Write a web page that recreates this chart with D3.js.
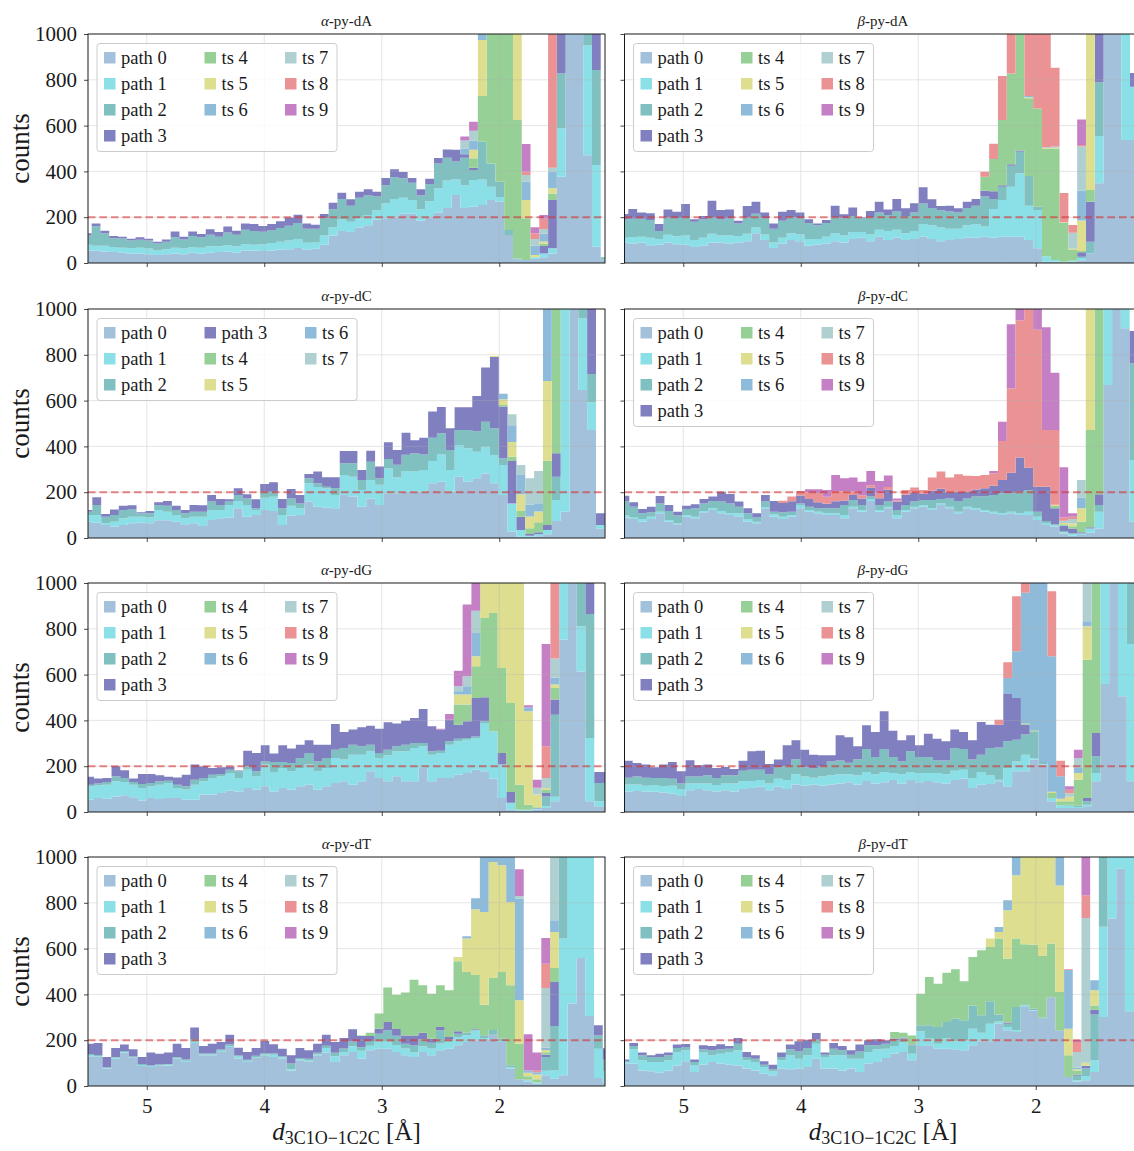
<!DOCTYPE html>
<html>
<head>
<meta charset="utf-8">
<title>stacked histograms</title>
<script src="https://cdn.jsdelivr.net/npm/d3@7"></script>
<style>
  body { margin: 0; background: #fff; }
  svg { display: block; font-family: "Liberation Serif", "DejaVu Serif", serif; }
</style>
</head>
<body>
<svg id="chart" width="1134" height="1151"></svg>
<script>
// ---------------- data ----------------
const seriesNames = ["path 0", "path 1", "path 2", "path 3", "ts 4", "ts 5", "ts 6", "ts 7", "ts 8", "ts 9"];
const seriesColors = ["steelblue", "#17becf", "teal", "navy", "#2ca02c", "#bcbd22", "#1f77b4", "cadetblue", "#d62728", "darkmagenta"];
const xTicks = [5, 4, 3, 2];
const yTicks = [0, 200, 400, 600, 800, 1000];
const cutoff = 200;

// zero everywhere except a run of bins starting at `from`
function pad(n, from, vals) {
  const out = new Array(n).fill(0);
  vals.forEach((v, k) => { out[from + k] = v; });
  return out;
}

// alpha-py-dA
const aA_p0 = [55,55,50,48,45,40,42,38,35,38, 42,38,45,42,45,48,50,45,55,55, 52,55,58,60,65,58,62,80,120,140, 135,155,165,190,195,200,215,215,185,200, 220,240,297,240,246,253,275,268,122,16, 13,17,25,42,377,1100,1100,470,71,15];
const aA_p1 = [25,20,25,22,22,25,25,25,20,22, 25,25,25,25,28,25,28,28,28,25, 30,32,35,38,40,30,28,40,35,50, 45,40,45,40,65,80,70,60,50,70, 106,120,68,100,116,112,58,20,0,0, 0,8,17,22,211,0,0,480,357,0];
const aA_p2 = [40,85,55,38,40,33,35,35,30,33, 45,40,48,45,50,42,55,50,62,60, 55,55,60,65,70,62,60,75,80,90, 70,90,85,60,80,95,85,75,60,75, 109,100,78,120,44,165,102,67,22,4, 0,0,0,0,240,0,0,150,415,10];
const aA_p3 = [10,13,11,10,8,8,10,8,8,10, 26,12,20,15,24,20,26,18,28,30, 25,28,29,36,36,23,17,19,28,27, 28,26,27,21,31,34,27,21,27,23, 24,36,51,15,10,0,0,0,0,0, 0,0,32,211,300,0,0,0,300,0];
const aA_ts4 = pad(60, 43, [0,41,199,800,900,1000,605,182,0,10,29]);
const aA_ts5 = pad(60, 43, [0,38,245,0,0,0,500,80,10,10,22]);
const aA_ts6 = pad(60, 43, [25,40,40,0,0,0,0,80,40,34,73]);
const aA_ts7 = pad(60, 43, [35,42,0,0,0,0,0,29,30,20,17]);
const aA_ts8 = pad(60, 43, [0,0,0,0,0,0,0,15,25,45,700]);
const aA_ts9 = pad(60, 43, [17,40,0,0,0,0,0,121,26,17,0]);

// beta-py-dA
const bA_p0 = [90,85,88,78,80,88,82,80,70,75, 88,90,85,88,95,130,100,65,85,100, 95,75,80,85,95,90,105,110,95,115, 100,110,100,105,115,105,95,100,105,110, 110,115,110,115,115,115,100,64,5,5, 3,5,12,42,348,1200,1200,537,537,500];
const bA_p1 = [20,28,27,32,25,35,35,40,30,35, 40,30,35,30,33,25,25,25,25,30, 30,30,25,30,35,30,30,25,30,30, 40,35,30,35,55,60,60,50,45,55, 60,44,126,160,218,277,150,167,25,8, 3,5,10,0,207,0,0,600,233,400];
const bA_p2 = [80,80,78,78,35,75,80,78,80,80, 70,70,75,55,70,60,70,60,75,70, 70,70,60,60,70,75,70,60,75,75, 70,80,75,80,90,75,75,75,70,75, 80,131,44,58,92,94,130,15,0,0, 0,0,5,51,234,0,0,0,0,0];
const bA_p3 = [24,43,27,29,30,36,27,60,11,15, 74,41,39,12,51,53,26,23,39,31, 25,16,8,13,50,18,37,5,27,48, 24,55,34,41,71,38,19,25,19,28, 30,26,33,7,6,5,0,0,0,0, 0,0,20,175,300,0,0,0,60,0];
const bA_ts4 = pad(60, 41, [61,141,285,397,600,339,429,470,487,170,47,5,51]);
const bA_ts5 = pad(60, 41, [0,0,0,0,0,5,0,3,4,2,5,134,700]);
const bA_ts6 = pad(60, 41, [0,0,0,0,0,5,0,3,5,0,0,131,0]);
const bA_ts7 = pad(60, 41, [0,0,0,0,0,0,0,0,0,0,70,193,0]);
const bA_ts8 = pad(60, 41, [22,67,192,250,0,300,400,600,344,128,34,5,0]);
const bA_ts9 = pad(60, 41, [0,0,0,0,0,0,0,0,0,0,0,112,0]);

// alpha-py-dC
const aC_p0 = [71,67,57,50,57,64,67,64,77,77, 71,60,64,52,79,86,89,130,93,100, 122,118,57,98,100,159,137,132,130,188, 181,137,173,144,195,195,202,202,202,239, 246,202,268,246,261,282,239,188,28,5, 5,8,16,74,115,1100,646,472,42];
const aC_p1 = [29,33,7,21,29,29,26,25,45,38, 29,26,29,41,43,36,55,32,51,22, 54,62,43,43,30,80,86,85,58,87, 87,73,80,89,109,69,91,88,95,97, 119,95,138,146,116,117,123,131,123,30, 5,8,19,92,1000,0,313,121,15];
const aC_p2 = [15,44,29,29,36,32,15,19,22,26, 22,22,22,22,37,22,15,26,29,8, 26,22,30,32,21,22,16,7,29,51, 58,43,80,28,41,56,70,80,68,102, 92,87,66,80,89,109,117,29,0,0, 0,0,0,102,0,0,200,123,0];
const aC_p3 = [7,34,12,25,19,18,4,10,12,21, 19,14,29,28,29,26,10,29,18,39, 34,41,40,41,37,19,51,41,48,54, 54,44,48,51,73,64,97,57,73,114, 115,95,99,99,154,236,311,226,185,58, 7,9,22,102,0,0,0,400,51];
const aC_ts4 = pad(59, 46, [0,7,19,25,26,44,280,700]);
const aC_ts5 = pad(59, 46, [5,25,64,73,51,47,349,0]);
const aC_ts6 = pad(59, 46, [0,24,73,84,51,36,320,0]);
const aC_ts7 = pad(59, 46, [0,0,48,44,116,141,0,0]);

// beta-py-dC
const bC_p0 = [89,83,71,83,108,71,60,93,86,112, 122,108,100,93,71,64,130,93,83,93, 130,115,108,100,100,86,130,115,162,115, 130,86,115,130,137,122,144,130,108,130, 122,115,108,100,108,100,100,79,57,50, 20,10,13,23,42,668,1100,916,71];
const bC_p1 = [9,7,12,10,7,8,4,7,7,6, 8,10,8,15,12,7,5,10,10,7, 14,7,7,8,8,14,7,7,8,7, 7,14,7,7,7,8,7,7,7,7, 8,7,7,8,7,8,15,14,7,7, 5,8,7,19,73,400,0,100,270];
const bC_p2 = [61,47,25,19,36,39,34,27,37,33, 32,41,43,29,25,18,24,12,19,15, 7,15,15,22,22,44,29,22,11,22, 22,22,22,22,22,36,19,36,47,36, 51,60,73,87,80,94,95,22,10,3, 6,3,0,0,29,0,0,0,422];
const bC_p3 = [26,19,19,25,32,26,17,14,17,19, 19,43,41,22,22,19,29,47,41,45, 35,33,26,20,30,20,22,28,39,30, 52,36,45,38,27,40,45,27,40,30, 31,35,40,58,90,149,97,109,150,70, 23,20,5,5,47,0,0,0,141];
const bC_ts4 = pad(59, 49, [10,6,10,46,425,900]);
const bC_ts5 = pad(59, 49, [5,5,12,59,600]);
const bC_ts6 = pad(59, 52, [46]);
const bC_ts7 = pad(59, 50, [10,20,77]);
const bC_ts8 = pad(59, 18, [10,21,19,30,40,30,45,40,15,15, 10,20,12,6,21,23,17,58,75,64, 76,69,59,58,55,171,369,600,700,685, 248,327,15,10]);
const bC_ts9 = pad(59, 21, [13,17,30,70,57,61,59,63,55,50, 9,0,0,0,0,0,0,0,0,0, 0,10,84,279,150,0,100,448,250,219, 15]);

// alpha-py-dG
const aG_p0 = [54,61,58,68,73,64,50,61,57,61, 61,54,54,76,76,83,93,90,105,98, 112,90,105,98,112,119,98,112,127,134, 119,134,178,149,134,156,134,134,192,134, 149,149,163,170,185,178,146,61,10,5, 5,10,17,47,753,1100,614,47,25,25];
const aG_p1 = [58,55,61,66,58,55,55,51,62,66, 44,44,65,58,73,73,77,59,80,58, 95,85,87,80,80,88,80,80,109,95, 131,116,87,87,114,109,131,146,95,116, 109,145,146,146,138,211,206,146,30,5, 5,5,8,20,400,0,197,276,22,22];
const aG_p2 = [7,9,12,22,18,12,17,15,15,10, 14,14,22,15,14,10,15,29,15,22, 14,43,26,36,44,51,43,44,36,51, 44,37,29,22,24,22,29,21,14,15, 10,15,11,7,7,7,0,0,0,0, 0,0,43,358,0,0,300,542,80,80];
const aG_p3 = [35,21,18,44,33,15,44,39,26,17, 32,51,66,51,29,29,13,3,68,80, 70,37,73,63,58,55,73,58,112,69, 66,83,83,105,120,100,105,110,149,109, 91,94,61,73,168,105,0,51,47,0, 0,3,15,66,0,0,0,300,48,48];
const aG_ts4 = pad(60, 42, [88,73,138,346,517,371,389,109,22,3,15,51]);
const aG_ts5 = pad(60, 42, [44,44,44,250,250,400,600,900,408,55,7,15]);
const aG_ts6 = pad(60, 42, [14,36,102,0,0,0,0,0,17,0,0,29]);
const aG_ts7 = pad(60, 42, [22,44,97,0,0,0,0,0,0,30,44,84]);
const aG_ts8 = pad(60, 52, [138,400]);
const aG_ts9 = pad(60, 40, [5,25,68,313,130,0,0,0,0,0,9,35,447]);

// beta-py-dG
const bG_p0 = [90,92,90,88,85,80,70,95,100,95, 90,95,90,100,105,110,95,110,100,120, 115,120,115,120,125,130,120,135,125,130, 140,125,140,130,135,130,125,140,145,105, 119,122,134,112,178,178,229,207,47,17, 17,17,25,134,559,1200,505,134];
const bG_p1 = [30,28,25,30,28,35,30,30,25,30, 28,30,35,35,30,30,30,35,40,45, 40,30,40,40,40,35,40,40,40,45, 30,40,35,40,35,40,40,40,40,44, 56,38,7,80,43,72,7,3,14,12, 10,5,7,36,600,0,600,600];
const bG_p2 = [30,35,35,30,35,30,25,30,30,35, 30,35,35,45,50,45,40,50,60,65, 40,40,45,60,60,50,70,100,75,100, 70,55,90,70,70,55,60,100,90,80, 75,120,141,117,95,88,116,8,0,0, 5,5,15,73,0,0,0,400];
const bG_p3 = [74,59,57,47,59,73,53,71,49,47, 44,37,28,44,80,83,45,34,91,83, 77,60,48,28,110,111,57,104,109,165, 115,93,70,51,102,95,84,80,74,84, 143,101,99,206,182,43,0,0,0,0, 0,0,14,102,0,0,0,0];
const bG_ts4 = pad(58, 45, [5,5,0,22,18,15,114,604,700]);
const bG_ts5 = pad(58, 48, [5,11,20,29,146]);
const bG_ts6 = pad(58, 43, [70,204,571,800,900,592,98,0,22,22]);
const bG_ts7 = pad(58, 50, [15,44,200]);
const bG_ts8 = pad(58, 42, [22,69,240,100,0,0,284,68,15]);
const bG_ts9 = pad(58, 50, [15,36]);

// alpha-py-dT
const aT_p0 = [130,127,76,119,146,122,87,83,87,90, 119,105,188,134,134,149,170,119,105,122, 134,127,119,68,112,108,134,146,105,134, 149,119,156,163,163,149,134,127,149,134, 156,163,178,192,200,200,224,192,76,29, 20,10,47,32,47,360,559,306,35,15];
const aT_p1 = [5,3,3,4,3,3,5,4,4,3, 3,5,5,4,4,5,5,10,5,4, 4,10,6,5,5,5,5,20,25,15, 25,35,20,30,30,30,30,20,25,30, 30,30,35,30,43,10,0,5,5,0, 5,5,20,36,597,700,600,700,128,50];
const aT_p2 = [5,5,3,4,4,4,4,3,3,3, 4,6,12,4,4,5,6,4,5,6, 6,5,5,25,5,6,6,10,15,15, 20,15,20,35,50,40,20,30,30,25, 57,11,15,10,0,12,20,10,10,0, 3,0,60,194,400,0,0,0,58,50];
const aT_p3 = [45,53,45,39,28,31,31,56,47,50, 59,50,50,33,43,33,43,34,34,34, 53,40,33,36,44,37,40,48,47,46, 54,49,22,22,37,30,37,44,29,17, 15,10,11,0,5,0,0,0,0,0, 0,0,10,192,0,0,0,0,44,50];
const aT_ts4 = pad(60, 31, [3,15,67,150,150,187,243,207,197,182, 204,306,266,237,133,228,291,349,156,15, 15,10,61]);
const aT_ts5 = pad(60, 42, [18,146,287,405,506,466,364,189,15,20,10,158]);
const aT_ts6 = pad(60, 43, [10,48,300,50,100,250,444,10,10,10,51]);
const aT_ts7 = pad(60, 49, [12,0,0,261,300]);
const aT_ts8 = pad(60, 51, [7,106]);
const aT_ts9 = pad(60, 49, [116,158,79,112]);

// beta-py-dT
const bT_p0 = [98,98,68,64,58,68,90,108,61,93, 105,98,93,90,76,68,54,47,76,73, 76,83,119,76,76,68,76,61,98,105, 122,141,149,112,175,178,163,163,160,156, 178,195,195,272,243,236,345,330,294,388, 243,39,20,25,61,301,731,949,326,326];
const bT_p1 = [7,62,44,41,47,44,59,48,29,53, 29,43,53,66,36,37,29,17,36,61, 43,51,66,51,58,66,43,58,51,55, 41,34,43,29,64,29,22,44,35,44, 72,38,77,10,15,7,7,2,0,0, 0,0,5,19,51,394,400,200,700,700];
const bT_p2 = [2,15,22,22,22,22,17,14,15,14, 22,19,17,29,15,14,10,9,15,26, 32,32,17,10,29,22,18,32,29,18, 22,25,15,37,26,58,73,73,99,87, 102,76,98,30,14,102,5,5,5,0, 0,0,20,32,200,400,0,0,0,0];
const bT_p3 = [9,13,12,7,14,12,15,13,11,18, 19,22,12,25,22,15,15,20,19,21, 44,36,29,9,25,19,19,30,22,26, 15,7,5,3,0,0,0,0,0,0, 0,0,0,0,5,0,0,0,0,0, 0,0,5,11,21,0,0,0,0,0];
const bT_ts4 = pad(60, 31, [29,21,40,138,211,189,215,216,170,211, 284,237,332,279,299,262,280,269,234,168, 95,18,3,19]);
const bT_ts5 = pad(60, 42, [37,29,211,276,400,400,450,400,465,116,5,12,66]);
const bT_ts6 = pad(60, 43, [21,44,150,0,0,0,0,150,258,7,0,44]);
const bT_ts7 = pad(60, 52, [69,632]);
const bT_ts8 = pad(60, 51, [3,43,99]);
const bT_ts9 = pad(60, 52, [8,167]);

const titles = ["α-py-dA", "β-py-dA", "α-py-dC", "β-py-dC", "α-py-dG", "β-py-dG", "α-py-dT", "β-py-dT"];
// upper edge of the first bin and bin width (Å) of every histogram
const binTop = [5.5435, 5.5423, 5.5383, 5.5335, 5.5237, 5.5057, 5.5265, 5.5329];
const binWidth = [0.0747, 0.0749, 0.0752, 0.0747, 0.0747, 0.0751, 0.0747, 0.0740];
const panelSeries = [
  [aA_p0, aA_p1, aA_p2, aA_p3, aA_ts4, aA_ts5, aA_ts6, aA_ts7, aA_ts8, aA_ts9],
  [bA_p0, bA_p1, bA_p2, bA_p3, bA_ts4, bA_ts5, bA_ts6, bA_ts7, bA_ts8, bA_ts9],
  [aC_p0, aC_p1, aC_p2, aC_p3, aC_ts4, aC_ts5, aC_ts6, aC_ts7],
  [bC_p0, bC_p1, bC_p2, bC_p3, bC_ts4, bC_ts5, bC_ts6, bC_ts7, bC_ts8, bC_ts9],
  [aG_p0, aG_p1, aG_p2, aG_p3, aG_ts4, aG_ts5, aG_ts6, aG_ts7, aG_ts8, aG_ts9],
  [bG_p0, bG_p1, bG_p2, bG_p3, bG_ts4, bG_ts5, bG_ts6, bG_ts7, bG_ts8, bG_ts9],
  [aT_p0, aT_p1, aT_p2, aT_p3, aT_ts4, aT_ts5, aT_ts6, aT_ts7, aT_ts8, aT_ts9],
  [bT_p0, bT_p1, bT_p2, bT_p3, bT_ts4, bT_ts5, bT_ts6, bT_ts7, bT_ts8, bT_ts9]
];

// ---------------- layout ----------------
const W = 517, H = 229;
const colLeft = [88, 624.5];
const rowTop = [34, 309, 583, 857];
const ink = "#1a1a1a";

// bars are alpha 0.5 over white
const fills = seriesColors.map(c => d3.interpolateRgb("#ffffff", c)(0.5));

const svg = d3.select("#chart");
const defs = svg.append("defs");

function drawLegend(g, count) {
  const perCol = Math.ceil(count / 3);
  const big = count % 3 || 3;
  const cols = [];
  let idx = 0;
  for (let c = 0; c < 3; c++) {
    const size = c < big ? perCol : perCol - 1;
    cols.push(d3.range(idx, idx + size));
    idx += size;
  }
  const textW = col => col.some(j => j < 4) ? 47 : 27;
  const colX = [16];
  cols.forEach((col, c) => { if (c < 2) colX.push(colX[c] + 17 + textW(col) + 36.5); });
  const right = colX[2] + 17 + textW(cols[2]) + 8;
  const boxTop = 9.5, boxH = 30 + (perCol - 1) * 26;

  g.append("rect")
    .attr("x", 9).attr("y", boxTop)
    .attr("width", right - 9).attr("height", boxH)
    .attr("rx", 3)
    .attr("fill", "#fff").attr("fill-opacity", 0.8)
    .attr("stroke", "#cccccc").attr("stroke-width", 1);

  cols.forEach((col, c) => col.forEach((j, r) => {
    const cy = boxTop + 14.5 + r * 26;
    g.append("rect")
      .attr("x", colX[c]).attr("y", cy - 6)
      .attr("width", 11.5).attr("height", 11.5)
      .attr("fill", fills[j]);
    g.append("text")
      .attr("x", colX[c] + 17).attr("y", cy + 6)
      .attr("font-size", 18.5).attr("fill", ink)
      .text(seriesNames[j]);
  }));
}

panelSeries.forEach((series, k) => {
  const col = k % 2, row = Math.floor(k / 2);
  const g = svg.append("g").attr("transform", `translate(${colLeft[col]},${rowTop[row]})`);

  const x = d3.scaleLinear().domain([5.5, 1.1]).range([0, W]);
  const y = d3.scaleLinear().domain([0, 1000]).range([H, 0]);

  const clipId = "clip" + k;
  defs.append("clipPath").attr("id", clipId)
    .append("rect").attr("width", W).attr("height", H);

  // one row per bin
  const n = series[0].length;
  const rows = d3.range(n).map(i => ({
    hi: binTop[k] - i * binWidth[k],
    lo: binTop[k] - (i + 1) * binWidth[k],
    v: series.map(s => s[i])
  }));
  const stacked = d3.stack()
    .keys(d3.range(series.length))
    .value((d, key) => d.v[key])(rows);

  const bars = g.append("g").attr("clip-path", `url(#${clipId})`);
  stacked.forEach((layer, j) => {
    const p = d3.path();
    layer.forEach(d => {
      if (d[1] > d[0]) {
        const x0 = x(d.data.hi), x1 = x(d.data.lo);
        const y0 = y(d[0]), y1 = y(Math.min(d[1], 1200));
        p.rect(x0, y1, x1 - x0, y0 - y1);
      }
    });
    bars.append("path").attr("d", p.toString()).attr("fill", fills[j]);
  });

  // grid
  const grid = g.append("g").attr("stroke", "#b0b0b0").attr("stroke-width", 0.8).attr("opacity", 0.4);
  grid.selectAll("line.v").data(xTicks).join("line")
    .attr("x1", d => x(d)).attr("x2", d => x(d)).attr("y1", 0).attr("y2", H);
  grid.selectAll("line.h").data(yTicks.slice(1, -1)).join("line")
    .attr("x1", 0).attr("x2", W).attr("y1", d => y(d)).attr("y2", d => y(d));

  // 200-count reference
  g.append("line")
    .attr("x1", 0).attr("x2", W)
    .attr("y1", y(cutoff)).attr("y2", y(cutoff))
    .attr("stroke", "#d62728").attr("stroke-opacity", 0.55)
    .attr("stroke-width", 2).attr("stroke-dasharray", "7.5,4");

  // axes
  const xAxis = d3.axisBottom(x).tickValues(xTicks).tickSize(4).tickPadding(8)
    .tickFormat(row === 3 ? d3.format("d") : () => "");
  const yAxis = d3.axisLeft(y).tickValues(yTicks).tickSize(4).tickPadding(7)
    .tickFormat(col === 0 ? d3.format("d") : () => "");
  [g.append("g").attr("transform", `translate(0,${H})`).call(xAxis),
   g.append("g").call(yAxis)].forEach(a => {
    a.attr("font-family", null).attr("font-size", null);
    a.select(".domain").remove();
    a.selectAll(".tick line").attr("stroke", ink).attr("stroke-width", 0.8);
    a.selectAll(".tick text").attr("fill", ink).attr("font-size", 21);
  });

  // spines
  g.append("rect").attr("width", W).attr("height", H)
    .attr("fill", "none").attr("stroke", ink).attr("stroke-width", 1);

  // title
  const t = g.append("text").attr("x", W / 2).attr("y", -8)
    .attr("text-anchor", "middle").attr("font-size", 15).attr("fill", ink);
  t.append("tspan").attr("font-style", "italic").text(titles[k].slice(0, 1));
  t.append("tspan").text(titles[k].slice(1));

  drawLegend(g, series.length);

  if (col === 0) {
    g.append("text")
      .attr("transform", `translate(${20 - colLeft[0]},${H / 2}) rotate(-90)`)
      .attr("text-anchor", "middle").attr("dominant-baseline", "central")
      .attr("font-size", 27).attr("fill", ink)
      .text("counts");
  }
  if (row === 3) {
    const xl = g.append("text").attr("x", W / 2).attr("y", H + 54)
      .attr("text-anchor", "middle").attr("fill", ink).attr("font-size", 25);
    xl.append("tspan").attr("font-style", "italic").text("d");
    xl.append("tspan").attr("font-size", 18).attr("dy", 4).text("3C1O−1C2C");
    xl.append("tspan").attr("dy", -4).text(" [Å]");
  }
});
</script>
</body>
</html>
